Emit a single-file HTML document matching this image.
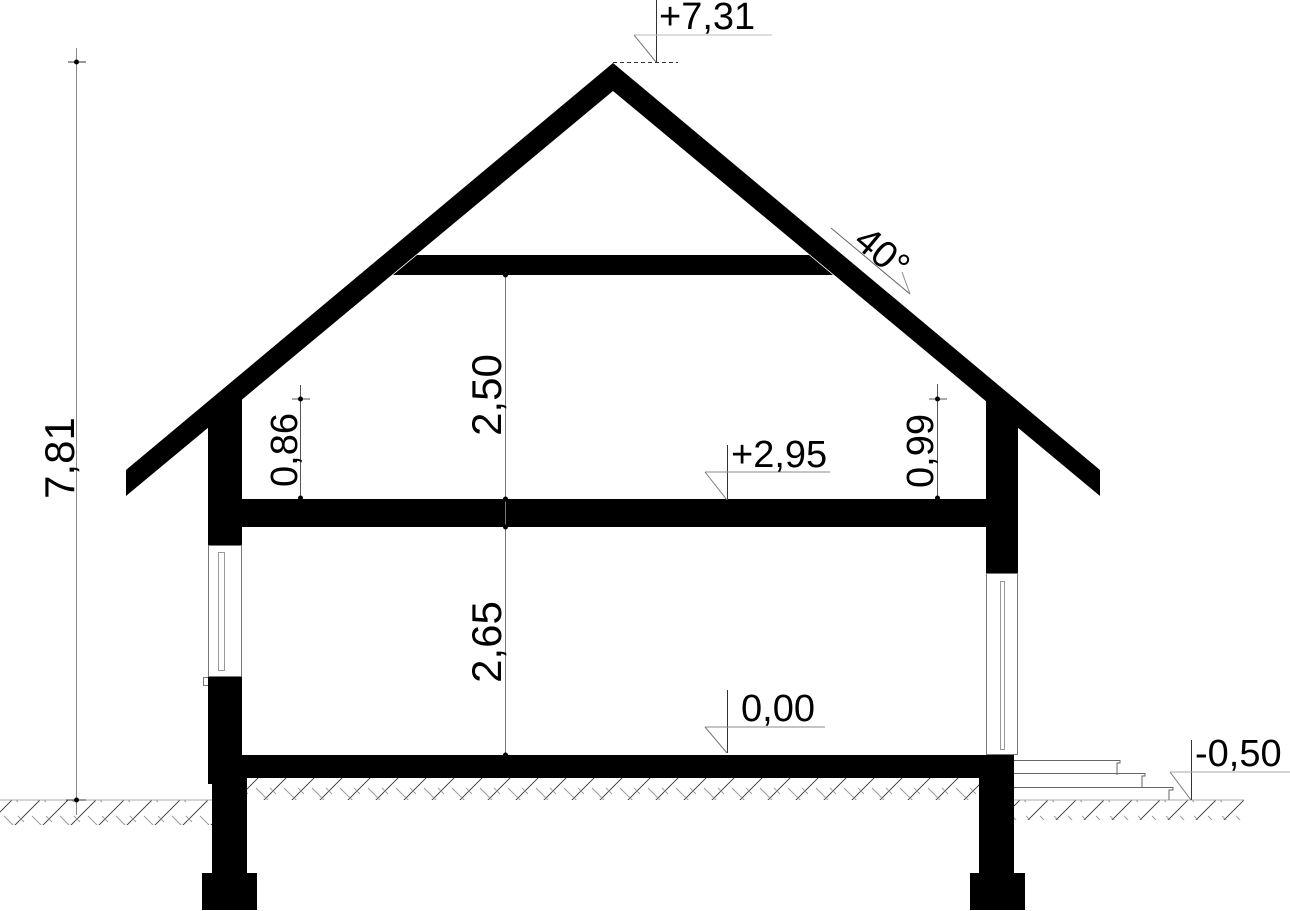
<!DOCTYPE html>
<html><head><meta charset="utf-8"><style>
html,body{margin:0;padding:0;background:#fff;}
svg{display:block;}
text{font-family:"Liberation Sans",sans-serif;fill:#000;}
</style></head><body>
<svg width="1290" height="911" viewBox="0 0 1290 911" xmlns="http://www.w3.org/2000/svg">
<defs>
<pattern id="h" width="28" height="28" patternUnits="userSpaceOnUse">
<path d="M0 28 L28 0 M-7 7 L7 -7 M21 35 L35 21" stroke="#333" stroke-width="0.9"/>
<path d="M4 4 L18 18 M18 4 L24 10" stroke="#999" stroke-width="0.9"/>
</pattern>
</defs>
<rect x="0" y="800" width="212" height="25" fill="url(#h)"/>
<rect x="247" y="778" width="732" height="22" fill="url(#h)"/>
<rect x="1014" y="800" width="230" height="20" fill="url(#h)"/>
<line x1="0" y1="800" x2="212" y2="800" stroke="#aaa" stroke-width="1"/>
<line x1="1014" y1="800" x2="1244" y2="800" stroke="#aaa" stroke-width="1"/>

<polygon points="613,63 1100,470 1100,496 613,91 126,496 126,470" fill="#000"/>
<polygon points="417,255 809,255 833,275 393,275" fill="#000"/>
<polygon points="208,420 242,390 242,545 208,545" fill="#000"/>
<polygon points="986,390 1018,416 1018,573 986,573" fill="#000"/>
<rect x="242" y="499" width="744" height="28" fill="#000"/>
<rect x="208.5" y="545.5" width="33" height="131" fill="none" stroke="#777" stroke-width="1"/>
<rect x="218.5" y="552.5" width="6" height="118" fill="none" stroke="#999" stroke-width="1"/>
<rect x="203.5" y="677.5" width="6" height="8" fill="none" stroke="#777"/>
<rect x="208" y="677" width="34" height="107" fill="#000"/>
<rect x="212" y="755" width="35" height="118" fill="#000"/>
<rect x="202" y="873" width="55" height="37" fill="#000"/>
<rect x="242" y="755" width="772" height="23" fill="#000"/>
<rect x="960" y="755" width="20" height="18" fill="#000"/>
<rect x="986.5" y="573.5" width="31" height="181" fill="none" stroke="#777" stroke-width="1"/>
<rect x="1000.5" y="581.5" width="4" height="168" fill="none" stroke="#999" stroke-width="1"/>
<rect x="979" y="755" width="35" height="118" fill="#000"/>
<rect x="970" y="873" width="55" height="37" fill="#000"/>
<g fill="none" stroke="#666" stroke-width="1">
<path d="M1014 760.5 H1120 V763 H1117 V775"/>
<path d="M1014 773.5 H1145 V776 H1142 V788"/>
<path d="M1014 787.5 H1173 V790 H1169 V800"/>
</g>

<g stroke="#333" stroke-width="1" fill="none">
<line x1="656.5" y1="0" x2="656.5" y2="62"/>
<line x1="634" y1="35" x2="772" y2="35" stroke="#bbb"/>
<line x1="634" y1="35" x2="656" y2="62" stroke="#777"/>
<line x1="613" y1="62.5" x2="678" y2="62.5" stroke-dasharray="4,3"/>
</g>
<text x="659" y="29" font-size="38">+7,31</text>
<g stroke="#333" stroke-width="1" fill="none">
<line x1="727.5" y1="445" x2="727.5" y2="500"/>
<line x1="705" y1="472" x2="830" y2="472" stroke="#888"/>
<line x1="705" y1="472" x2="727" y2="500" stroke="#777"/>
</g>
<text x="731" y="467" font-size="38">+2,95</text>
<g stroke="#333" stroke-width="1" fill="none">
<line x1="727.5" y1="690" x2="727.5" y2="753"/>
<line x1="705" y1="727" x2="825" y2="727" stroke="#888"/>
<line x1="705" y1="727" x2="727" y2="753" stroke="#777"/>
</g>
<text x="741" y="721" font-size="38">0,00</text>
<g stroke="#333" stroke-width="1" fill="none">
<line x1="1191.5" y1="740" x2="1191.5" y2="800"/>
<line x1="1170" y1="772" x2="1290" y2="772" stroke="#aaa"/>
<line x1="1170" y1="772" x2="1191" y2="800" stroke="#777"/>
</g>
<text x="1195" y="766" font-size="38">-0,50</text>

<g stroke="#888" stroke-width="1">
<line x1="76.5" y1="48" x2="76.5" y2="815"/>
<line x1="68" y1="62" x2="86" y2="62" stroke="#333"/>
<line x1="66" y1="800" x2="86" y2="800" stroke="#333"/>
</g>
<circle cx="76.5" cy="62" r="2.5"/><circle cx="76.5" cy="800" r="2.5"/>
<text transform="translate(74,458) rotate(-90)" font-size="42" text-anchor="middle">7,81</text>
<line x1="505.5" y1="272" x2="505.5" y2="755" stroke="#777"/>
<circle cx="505.5" cy="275" r="2.5"/><circle cx="505.5" cy="499" r="2.5"/><circle cx="505.5" cy="527" r="2.5"/><circle cx="505.5" cy="755" r="2.5"/>
<text transform="translate(501,395) rotate(-90)" font-size="42" text-anchor="middle">2,50</text>
<text transform="translate(501,642) rotate(-90)" font-size="42" text-anchor="middle">2,65</text>
<line x1="300.5" y1="385" x2="300.5" y2="499" stroke="#555"/>
<line x1="292" y1="399" x2="310" y2="399" stroke="#555"/>
<circle cx="300.5" cy="399" r="2.5"/><circle cx="300.5" cy="498" r="2.5"/>
<text transform="translate(297,450) rotate(-90)" font-size="38" text-anchor="middle">0,86</text>
<line x1="937.5" y1="384" x2="937.5" y2="499" stroke="#555"/>
<line x1="929" y1="399" x2="947" y2="399" stroke="#555"/>
<circle cx="937.5" cy="399" r="2.5"/><circle cx="937.5" cy="498" r="2.5"/>
<text transform="translate(933,451) rotate(-90)" font-size="38" text-anchor="middle">0,99</text>
<line x1="831" y1="228" x2="910" y2="294" stroke="#666"/>
<line x1="902" y1="272" x2="910" y2="294" stroke="#888"/>
<text transform="translate(852,244) rotate(40)" font-size="38">40°</text>
</svg>
</body></html>
